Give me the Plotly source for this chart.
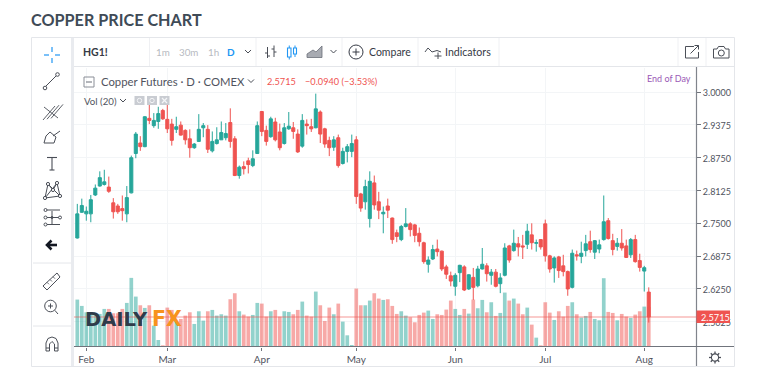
import plotly.graph_objects as go

open_p = [2.722,2.771,2.768,2.768,2.804,2.821,2.824,2.819,2.789,2.783,2.778,2.768,2.808,2.883,2.903,2.896,
2.950,2.936,2.944,2.965,2.948,2.939,2.929,2.937,2.927,2.911,2.894,2.906,2.932,2.929,2.888,2.902,
2.909,2.913,2.942,2.911,2.841,2.858,2.869,2.860,2.883,2.963,2.927,2.915,2.943,2.924,2.902,2.930,
2.932,2.920,2.897,2.939,2.934,2.932,2.962,2.930,2.908,2.895,2.913,2.864,2.887,2.887,2.909,2.806,
2.791,2.759,2.827,2.791,2.768,2.783,2.760,2.732,2.719,2.744,2.749,2.747,2.731,2.713,2.672,2.682,
2.701,2.697,2.667,2.650,2.630,2.656,2.667,2.625,2.647,2.631,2.663,2.669,2.651,2.657,2.635,2.651,
2.707,2.698,2.711,2.707,2.710,2.728,2.712,2.719,2.749,2.688,2.665,2.686,2.669,2.658,2.628,2.690,
2.687,2.698,2.715,2.695,2.701,2.719,2.755,2.717,2.706,2.712,2.707,2.690,2.719,2.679,2.659,2.619]
high_p = [2.787,2.797,2.782,2.804,2.824,2.849,2.852,2.839,2.798,2.787,2.803,2.821,2.879,2.924,2.916,2.954,
2.976,2.960,2.972,2.968,2.976,2.949,2.953,2.944,2.929,2.929,2.903,2.958,2.941,2.937,2.925,2.933,
2.944,2.941,2.969,2.916,2.860,2.868,2.875,2.889,2.944,2.964,2.936,2.953,2.951,2.940,2.941,2.962,
2.943,2.929,2.958,2.948,2.949,2.997,2.965,2.932,2.915,2.916,2.919,2.894,2.901,2.919,2.916,2.808,
2.833,2.849,2.841,2.810,2.782,2.797,2.761,2.738,2.747,2.779,2.752,2.749,2.742,2.715,2.687,2.709,
2.719,2.698,2.671,2.658,2.655,2.671,2.670,2.653,2.665,2.669,2.703,2.674,2.663,2.663,2.655,2.712,
2.709,2.738,2.724,2.728,2.749,2.750,2.719,2.720,2.757,2.690,2.687,2.688,2.690,2.660,2.700,2.698,
2.715,2.728,2.736,2.718,2.719,2.803,2.760,2.730,2.722,2.739,2.719,2.722,2.728,2.692,2.669,2.628]
low_p = [2.721,2.770,2.755,2.752,2.802,2.820,2.822,2.808,2.759,2.768,2.755,2.752,2.807,2.874,2.888,2.895,
2.939,2.932,2.930,2.947,2.922,2.898,2.922,2.917,2.900,2.875,2.892,2.905,2.914,2.884,2.885,2.900,
2.909,2.908,2.894,2.840,2.835,2.843,2.845,2.857,2.882,2.916,2.898,2.913,2.906,2.889,2.900,2.928,
2.911,2.884,2.894,2.919,2.924,2.931,2.903,2.894,2.878,2.888,2.856,2.862,2.866,2.876,2.787,2.772,
2.776,2.742,2.776,2.758,2.731,2.760,2.711,2.714,2.716,2.742,2.725,2.714,2.706,2.673,2.656,2.680,
2.687,2.659,2.644,2.630,2.612,2.638,2.621,2.623,2.604,2.628,2.662,2.639,2.633,2.628,2.617,2.649,
2.675,2.696,2.687,2.682,2.701,2.700,2.696,2.700,2.677,2.656,2.637,2.646,2.649,2.612,2.626,2.679,
2.674,2.687,2.694,2.682,2.693,2.717,2.719,2.689,2.698,2.698,2.684,2.684,2.675,2.658,2.620,2.561]
close_p = [2.768,2.784,2.773,2.795,2.817,2.837,2.829,2.811,2.772,2.772,2.774,2.799,2.875,2.920,2.896,2.953,
2.946,2.946,2.959,2.949,2.930,2.908,2.934,2.918,2.909,2.894,2.901,2.929,2.936,2.891,2.906,2.909,
2.923,2.921,2.906,2.841,2.857,2.854,2.862,2.873,2.936,2.925,2.906,2.949,2.909,2.894,2.932,2.935,
2.925,2.886,2.946,2.936,2.930,2.968,2.920,2.901,2.894,2.909,2.860,2.887,2.896,2.902,2.801,2.779,
2.820,2.830,2.785,2.775,2.771,2.775,2.719,2.725,2.744,2.749,2.738,2.727,2.715,2.677,2.680,2.700,
2.696,2.663,2.653,2.640,2.651,2.670,2.623,2.652,2.628,2.663,2.672,2.654,2.657,2.630,2.646,2.703,
2.680,2.712,2.705,2.705,2.735,2.713,2.713,2.705,2.688,2.663,2.684,2.660,2.658,2.625,2.693,2.688,
2.693,2.711,2.700,2.717,2.709,2.753,2.721,2.700,2.712,2.703,2.685,2.719,2.677,2.666,2.6655,2.5715]
volume = [142,123,104,104,99,99,114,114,101,101,114,132,207,151,125,117,
125,64,21,5,118,111,79,84,94,104,69,107,79,107,111,94,
98,94,143,161,107,97,91,96,132,130,91,107,111,91,107,105,
98,111,136,94,91,166,125,78,118,98,130,76,35,6,175,125,
125,139,161,145,141,143,123,99,107,94,89,74,96,103,109,84,
98,96,112,139,114,96,114,100,142,116,141,104,134,93,102,163,
139,145,130,98,118,67,28,5,134,103,81,107,91,123,134,98,
88,93,105,84,80,206,105,102,80,99,91,87,97,107,121,120]
session = list(range(len(close_p)))
tick_sessions = [2,20,41,62,84,104,126]
tick_months = ["Feb","Mar","Apr","May","Jun","Jul","Aug"]
price_ticks = [3.0,2.9375,2.875,2.8125,2.75,2.6875,2.625,2.5625]

TEAL="#26a69a"; RED="#ef5350"; INK="#4a4e57"; BLUE="#2196f3"; FONT="Lato"
# the page body has an 8px margin, so the figure fills what is left of the window
MARGIN=8
W,H=768-2*MARGIN,383-2*MARGIN
PX=lambda x:(x-MARGIN)/W
PY=lambda y:1-(y-MARGIN)/H
shapes=[]; notes=[]
def line(x0,y0,x1,y1,c=INK,w=1):
    shapes.append(dict(type="line",xref="paper",yref="paper",x0=PX(x0),y0=PY(y0),x1=PX(x1),y1=PY(y1),line=dict(color=c,width=w),layer="above"))
def rect(x0,y0,x1,y1,fill=None,c=None,w=1):
    shapes.append(dict(type="rect",xref="paper",yref="paper",x0=PX(x0),y0=PY(y0),x1=PX(x1),y1=PY(y1),fillcolor=fill or "rgba(0,0,0,0)",line=dict(color=c or "rgba(0,0,0,0)",width=w if c else 0),layer="above"))
def circ(cx,cy,r,c=INK,w=1,fill=None):
    shapes.append(dict(type="circle",xref="paper",yref="paper",x0=PX(cx-r),y0=PY(cy-r),x1=PX(cx+r),y1=PY(cy+r),fillcolor=fill or "rgba(0,0,0,0)",line=dict(color=c,width=w),layer="above"))
def poly(pts,c=INK,w=1,fill=None,close=False):
    d="M"+" L".join(f"{PX(x):.5f} {PY(y):.5f}" for x,y in pts)+(" Z" if close else "")
    shapes.append(dict(type="path",xref="paper",yref="paper",path=d,fillcolor=fill or "rgba(0,0,0,0)",line=dict(color=c,width=w),layer="above"))
def text(x,y,s,size=11,c=INK,anchor="left",font=FONT,bold=False):
    notes.append(dict(xref="paper",yref="paper",x=PX(x),y=PY(y),text=f"<b>{s}</b>" if bold else s,showarrow=False,xanchor=anchor,yanchor="middle",font=dict(family=font,size=size,color=c),borderpad=0,borderwidth=0))
def chev(x,y,c=INK):
    poly([(x-3,y-1.5),(x,y+1.5),(x+3,y-1.5)],c)

# frame
EDGE="#e4e6ea"
rect(31.5,37.5,734.5,366.5,None,EDGE)
line(72,66.5,734,66.5,EDGE)
rect(71,38,74,366,"#e9ebef")
for sx in (149.5,256,342,418,499,678,706):
    line(sx,38,sx,66,"#eff0f3")
line(33,263,71,263,EDGE); line(33,326,71,326,EDGE)
line(696.5,67,696.5,366,"#80848c",1.2)
line(74,346.5,734,346.5,"#70747c",1.2)

# left tools
for a,b,c_,d in ((52,47,52,52),(52,58,52,63),(44,55,49,55),(55,55,60,55)):
    line(a,b,c_,d,BLUE,1.2)
line(46,86,56,76); circ(45,88,1.8,fill="white"); circ(57.5,74.5,1.8,fill="white")
for dx in (0,4,8):
    line(43+dx,120-dx*0.2,55+dx,106-dx*0.2,w=0.9)
line(44,107,58,118,w=0.9)
poly([(44,143),(54,143),(56,137),(50,132),(46,136)],close=True); line(53,136,60,131)
line(47,157.5,57,157.5,w=1.1); line(52,157,52,170,w=1.1); line(49.5,170,54.5,170,w=1.1)
poly([(45,198),(48,184),(53,190),(57,183),(60,196),(45,198)]); line(48,184,60,196); line(57,183,45,198)
for a,b in ((45,198),(48,184),(53,190),(57,183),(60,196)):
    circ(a,b,1.6,fill="white")
for yy in (210,217.5,224.5):
    line(47,yy,60,yy); circ(45.5,yy,1.5,fill="white")
circ(60,217.5,1.5,fill="white"); line(52,211,52,224); circ(52,217.5,1,fill=INK)
line(47.5,245,57,245,"#131722",2.6); poly([(51.5,240.5),(47,245),(51.5,249.5)],"#131722",2.6)
poly([(43,286),(57,273),(60,277),(47,290)],close=True)
for a,b in ((47,282.3),(50,279.5),(53,276.7)):
    line(a,b,a+2,b+2,w=0.8)
circ(50.5,306,5.8); line(54.8,310.3,58,314); line(48,306,53,306); line(50.5,303.5,50.5,308.5)
poly([(46,351),(46,343),(48,338.5),(52,337),(56,338.5),(58,343),(58,351),(54.5,351),(54.5,344),(52,341.5),(49.5,344),(49.5,351)],close=True)
line(46,348,49.5,348); line(54.5,348,58,348)

# top bar
text(83,52.5,"HG1!",10.5,"#363a45",bold=True)
for sx,lab in ((162.5,"1m"),(188.5,"30m"),(213,"1h")):
    text(sx,52.5,lab,9.8,"#b7bac1","center")
text(230.5,52.5,"D",10,BLUE,"center",bold=True)
chev(248,51.5)
line(267.5,47,267.5,58); line(267.5,53,265,53); line(267.5,56,270,56)
line(274,45.5,274,57); line(274,49,271.5,49); line(274,52,276.5,52)
for x0,x1,y0,y1,y2,y3 in ((287.5,291,45.5,48,57,59.5),(293.5,296.5,45.5,48,54,57)):
    rect(x0,y1,x1,y2,None,BLUE,1.1); line((x0+x1)/2,y0,(x0+x1)/2,y1,BLUE); line((x0+x1)/2,y2,(x0+x1)/2,y3,BLUE)
poly([(307,57.5),(307,54),(313,50),(316,52),(322,46),(322,57.5)],"#6b6f78",0.8,"#a8abb2",True)
chev(333.5,51.5)
circ(356,52,7,"#363a45",1); line(352.5,52,359.5,52,"#363a45"); line(356,48.5,356,55.5,"#363a45")
text(368.5,52.5,"Compare",10.5,"#363a45")
poly([(425,52),(428,48),(432,52),(437,50.5),(441,52)]); line(438,52.5,438,59,w=1); line(434.5,56,441.5,56,w=1)
text(445,52,"Indicators",10.6,"#363a45")
poly([(694,46.5),(685.5,46.5),(685.5,58),(698.5,58),(698.5,52)]); line(690.5,53.5,698.5,45.5); poly([(694.5,45.5),(698.5,45.5),(698.5,49.5)])
poly([(713.5,49),(717,49),(718.5,46.5),(724,46.5),(725.5,49),(729,49),(729,58),(713.5,58)],close=True); circ(721.3,53,3)

# legend
rect(84,77,94,87,None,"#8a8e97",1); line(86,82,92,82,"#6b6f78")
text(101,82,"Copper Futures · D · COMEX",11.3,"#50535e")
chev(251,81)
text(267,82,"2.5715",9.2,RED)
text(305,82,"−0.0940 (−3.53%)",9.2,RED)
text(84,101,"Vol (20)",9.7,"#50535e")
chev(123,100.5)
for x0 in (134.5,147,159.5):
    rect(x0,96,x0+10,105,"#c9ccd2")
circ(139.5,100.5,2.2,"#f4f5f7",1); circ(152,100.5,2.2,"#f4f5f7",1)
line(162,98,167,103,"#f4f5f7",1.2); line(167,98,162,103,"#f4f5f7",1.2)
text(691,79,"End of Day",9,"#9b59b6","right")

# watermark
text(84.5,319,"DAILY",19.5,"#2f3b4a",font="DejaVu Sans",bold=True)
text(151.5,319,"FX",20.5,"#f7931e",font="DejaVu Sans",bold=True)

# title
text(31,19,"COPPER PRICE CHART",16.2,"#3f4b57",bold=True)

# last price tag
rect(696.5,310.5,730,323,RED)
text(715.5,317,"2.5715",9.2,"white","center")

# gear
circ(715,357.5,3.6,INK,1.1)
for a,b,c_,d in ((715,351.5,715,353.9),(715,361.1,715,363.5),(709,357.5,711.4,357.5),(718.6,357.5,721,357.5),(710.8,353.3,712.5,355),(717.5,360,719.2,361.7),(719.2,353.3,717.5,355),(712.5,360,710.8,361.7)):
    line(a,b,c_,d,INK,1.3)

up=[c>=o for c,o in zip(close_p,open_p)]
vol_colors=["rgba(38,166,154,0.5)" if u else "rgba(239,83,80,0.5)" for u in up]

fig=go.Figure()
fig.add_trace(go.Bar(x=session,y=volume,marker=dict(color=vol_colors,line=dict(width=0)),width=0.82,yaxis="y",hoverinfo="skip",showlegend=False))
fig.add_trace(go.Candlestick(x=session,open=open_p,high=high_p,low=low_p,close=close_p,yaxis="y2",whiskerwidth=0,
    increasing=dict(line=dict(color=TEAL,width=1),fillcolor=TEAL),decreasing=dict(line=dict(color=RED,width=1),fillcolor=RED),
    hoverinfo="skip",showlegend=False))
# last-close price line, from the data
shapes.insert(0,dict(type="line",xref="x",yref="y2",x0=-0.95,x1=137.5,y0=close_p[-1],y1=close_p[-1],line=dict(color="rgba(239,83,80,0.3)",width=2),layer="above"))

GRID="#f3f5f7"
fig.update_layout(width=W,height=H,margin=dict(l=0,r=0,t=0,b=0),paper_bgcolor="white",plot_bgcolor="white",
    showlegend=False,boxgap=0.2,boxgroupgap=0.15,bargap=0.18,font=dict(family=FONT),
    shapes=shapes,annotations=notes,
    xaxis=dict(domain=[PX(73),PX(696)],range=[-0.956,137.5],tickmode="array",tickvals=tick_sessions,ticktext=tick_months,
        ticks="outside",ticklen=3,tickcolor="#70747c",tickfont=dict(family=FONT,size=10,color="#50535e"),
        showgrid=True,gridcolor=GRID,gridwidth=1,zeroline=False,showline=False,rangeslider=dict(visible=False),anchor="y"),
    yaxis=dict(domain=[PY(347),PY(67.5)],range=[0,837],showticklabels=False,ticks="",showgrid=False,zeroline=False,showline=False),
    yaxis2=dict(overlaying="y",side="right",anchor="x",range=[2.5144,3.0468],tickmode="array",tickvals=price_ticks,
        tickformat=".4f",ticks="outside",ticklen=4,tickcolor="#70747c",tickfont=dict(family=FONT,size=9,color="#50535e"),
        ticklabelshift=1,showgrid=True,gridcolor=GRID,gridwidth=1,zeroline=False,showline=False))
fig.write_html("out.html")
